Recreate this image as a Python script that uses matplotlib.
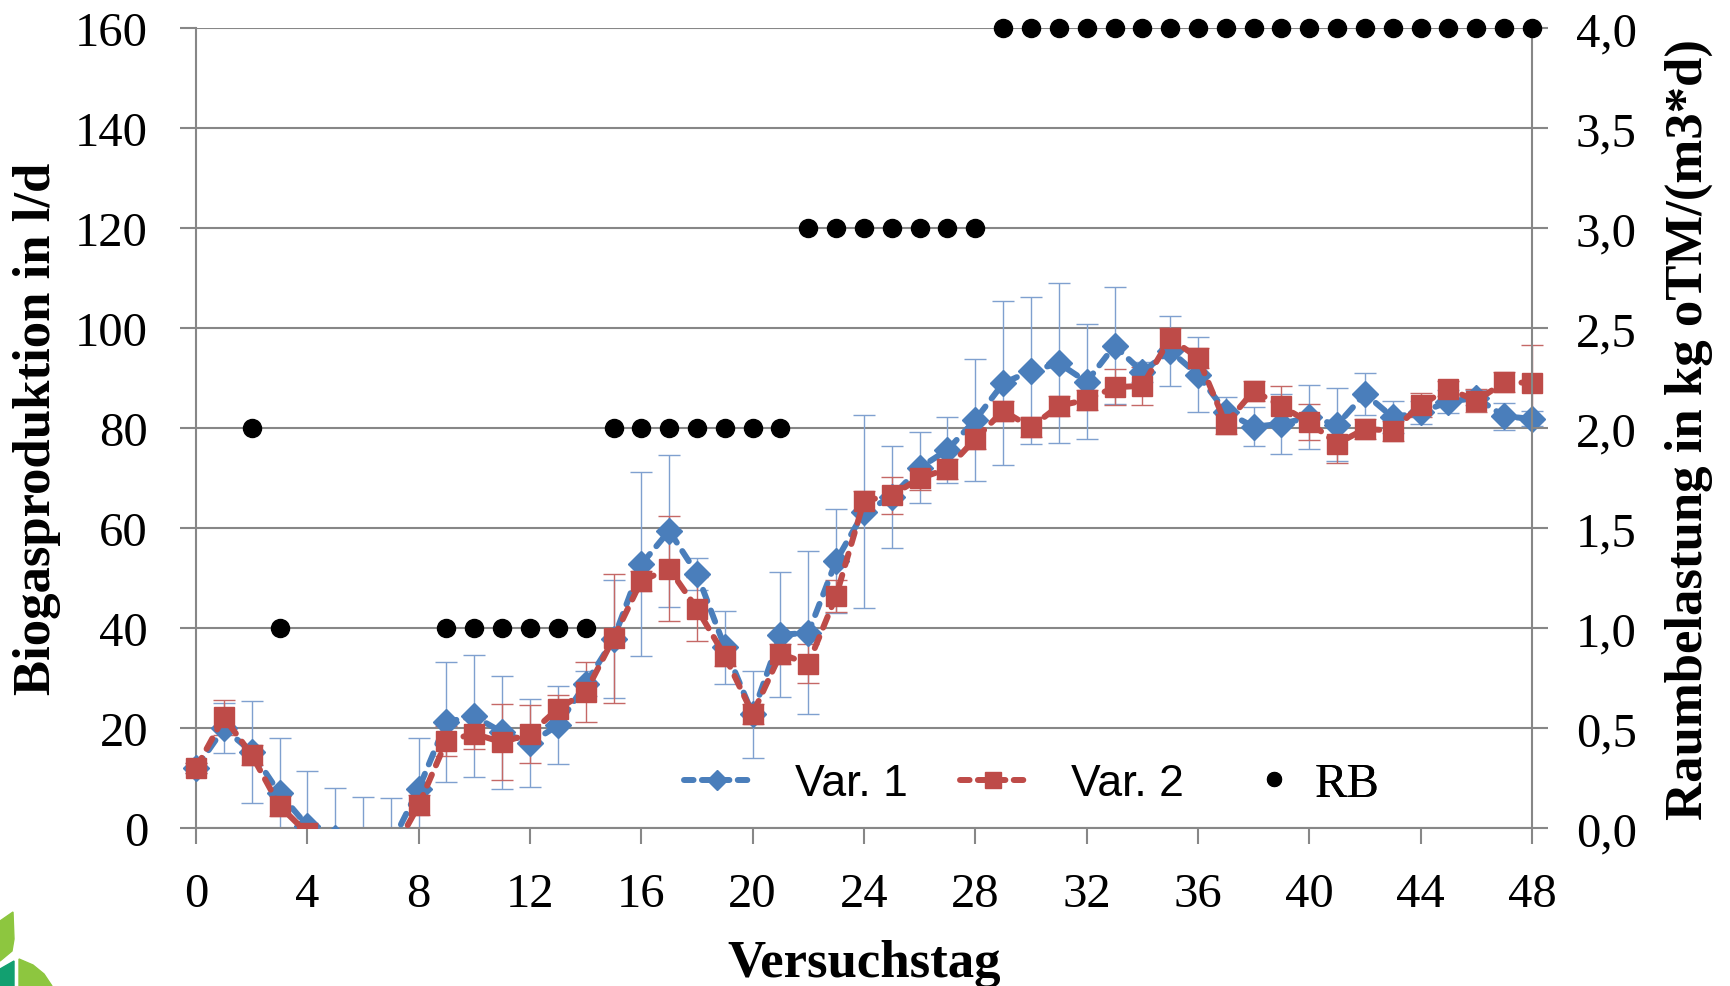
import matplotlib
matplotlib.use("Agg")
import matplotlib.pyplot as plt
import numpy as np
from matplotlib.lines import Line2D
from matplotlib.patches import Polygon
from matplotlib.transforms import Bbox, TransformedBbox
from matplotlib.ticker import FuncFormatter

plt.rcParams['font.family'] = ['Liberation Serif', 'DejaVu Serif']

days = list(range(49))
var1 = [12, 20, 15.3, 7, 0.5, -2, -3, -3.3, 7.9, 21.3,
        22.4, 19.2, 17, 20.6, 28.9, 37.8, 52.8, 59.5, 50.9, 36.2,
        22.8, 38.7, 39.1, 53.5, 63.3, 66.3, 72.1, 75.7, 81.7, 89,
        91.5, 93, 89.3, 96.5, 91.3, 95.5, 90.7, 83.3, 80.3, 80.9,
        82.2, 80.7, 86.9, 82.2, 83.2, 85.3, 86.1, 82.4, 81.9]
var1_err = [1, 5, 10.2, 11, 11, 10, 9.3, 9.4, 10.2, 12,
            12.2, 11.3, 8.8, 7.8, 2.5, 11.8, 18.4, 15.2, 3.2, 7.3,
            8.7, 12.5, 16.3, 10.4, 19.3, 10.2, 7.1, 6.6, 12.2, 16.4,
            14.7, 16, 11.5, 11.7, 2, 7, 7.5, 3, 3.9, 6,
            6.4, 7.3, 4.2, 3.2, 2.3, 2.3, 1.5, 2.7, 1.5]
var2 = [12, 22.2, 14.7, 4.5, -1, -6, -7, -5.5, 4.6, 17.5,
        18.9, 17.2, 18.9, 23.9, 27.2, 38, 49.5, 51.9, 43.9, 34.5,
        22.9, 34.9, 32.9, 46.5, 65.5, 66.6, 70, 71.9, 77.9, 83.5,
        80.2, 84.5, 85.7, 88.2, 88.5, 98, 94.1, 80.9, 87.5, 84.4,
        81.2, 76.9, 79.9, 79.5, 84.7, 87.9, 85.5, 89.2, 89.1]
var2_err = [1, 3.5, 2, 2, 2, 2, 2, 2, 2, 3,
            3, 7.6, 5.8, 2.8, 6, 12.9, 2, 10.5, 6.4, 2,
            2, 2, 3.9, 3.2, 2, 3.7, 2.3, 2, 2, 2,
            2, 2, 2, 3.6, 3.8, 2, 2, 2, 2, 4,
            3.6, 3.8, 2, 2, 2.4, 1.5, 2.3, 2, 7.6]
rb_days = [2, 3] + list(range(9, 49))
rb_vals = [2.0, 1.0] + [1.0] * 6 + [2.0] * 7 + [3.0] * 7 + [4.0] * 20

xticks = list(range(0, 49, 4))
yticks_left = list(range(0, 161, 20))
yticks_right = [0, 0.5, 1.0, 1.5, 2.0, 2.5, 3.0, 3.5, 4.0]

BLUE = '#4A7EBB'
RED = '#BE4B48'
BLUE_ERR = '#7FA0CF'
RED_ERR = '#C56866'
GRID = '#878787'
DASH = (0, (2.0, 1.7))

W, H = 1731, 987
fig = plt.figure(figsize=(W / 100, H / 100), dpi=100)
ax = fig.add_axes([196 / W, 1 - 829.3 / H, 1336 / W, 800 / H])
ax.set_xlim(0, 48)
ax.set_ylim(0, 160)

clipbox = TransformedBbox(Bbox([[-0.05, 0.0], [1.05, 1.05]]), ax.transAxes)

e1 = ax.errorbar(days, var1, yerr=var1_err, fmt='none', ecolor=BLUE_ERR,
                 elinewidth=1.0, capsize=8, capthick=1.0, zorder=2)
e2 = ax.errorbar(days, var2, yerr=var2_err, fmt='none', ecolor=RED_ERR,
                 elinewidth=1.0, capsize=8, capthick=1.0, zorder=2)
l1, = ax.plot(days, var1, color=BLUE, lw=4.3, ls=DASH,
              dash_capstyle='round', marker='D', ms=13, mec=BLUE, mfc=BLUE, zorder=3)
l2, = ax.plot(days, var2, color=RED, lw=4.3, ls=DASH,
              dash_capstyle='round', marker='s', ms=14.5, mec=RED, mfc=RED, zorder=3)
for art in [l1, l2] + list(e1.get_children()) + list(e2.get_children()):
    art.set_clip_box(clipbox)

ax.set_xticks(xticks)
ax.set_yticks(yticks_left)
ax.grid(axis='y', color=GRID, lw=1.5)
ax.set_axisbelow(True)
for s in ['top', 'right']:
    ax.spines[s].set_visible(False)
for s in ['left', 'bottom']:
    ax.spines[s].set_color(GRID)
    ax.spines[s].set_linewidth(1.5)
ax.tick_params(axis='both', direction='out', length=11.5, width=1.5, color=GRID,
               labelsize=35, labelcolor='black')
ax.tick_params(axis='y', pad=23)
ax.tick_params(axis='x', pad=20)

ax.set_xlabel('Versuchstag', fontsize=38, fontweight='bold')
ax.xaxis.set_label_coords(0.5, -0.138)
ax.set_ylabel('Biogasproduktion in l/d', fontsize=38, fontweight='bold')
ax.yaxis.set_label_coords(-0.101, 0.5)

ax2 = ax.twinx()
ax2.set_ylim(0, 4)
ax2.set_yticks(yticks_right)
ax2.yaxis.set_major_formatter(FuncFormatter(lambda v, p: f"{v:.1f}".replace('.', ',')))
p3, = ax2.plot(rb_days, rb_vals, ls='none', marker='o', ms=13, color='black', zorder=4)
p3.set_clip_on(False)
for s in ['top', 'left', 'bottom']:
    ax2.spines[s].set_visible(False)
ax2.spines['right'].set_color(GRID)
ax2.spines['right'].set_linewidth(1.5)
ax2.tick_params(axis='y', direction='out', length=11.5, width=1.5, color=GRID,
                labelsize=35, labelcolor='black', pad=20)
ax2.set_ylabel('Raumbelastung in kg oTM/(m3*d)', fontsize=38, fontweight='bold')
ax2.yaxis.set_label_coords(1.0996, 0.5)

# legend (three single-entry legends, placed like the original)
h1 = Line2D([], [], color=BLUE, lw=4.3, ls=(0, (1.6, 1.4)), dash_capstyle='round',
            marker='D', ms=10, mfc=BLUE, mec=BLUE)
h2 = Line2D([], [], color=RED, lw=4.3, ls=(0, (1.6, 1.4)), dash_capstyle='round',
            marker='s', ms=11, mfc=RED, mec=RED)
h3 = Line2D([], [], ls='none', marker='o', ms=10, color='black')
sans = ['Liberation Sans', 'DejaVu Sans']
specs = [(h1, 'Var. 1', 684, sans, 32, 1.0), (h2, 'Var. 2', 960, sans, 32, 1.0),
         (h3, 'RB', 1241, ['Liberation Serif'], 35, 0.15)]
for h, lab, px, fam, fs, tp in specs:
    leg = ax2.legend([h], [lab], loc='center left', frameon=False,
                     bbox_to_anchor=(px / W, 1 - 785 / H), bbox_transform=fig.transFigure,
                     borderpad=0, borderaxespad=0,
                     handlelength=1.5 * 32 / fs, handletextpad=tp,
                     prop={'family': fam, 'size': fs})
    ax2.add_artist(leg)

# logo fragment at bottom-left
def poly(pts, color):
    fig.patches.append(Polygon([(x / W, 1 - y / H) for x, y in pts], closed=True,
                               transform=fig.transFigure, color=color, figure=fig))

poly([(0, 922), (13, 913), (14, 940), (12, 952), (0, 962)], '#8DC63F')
poly([(0, 970), (14, 962), (14, 987), (0, 987)], '#12A070')
poly([(19, 960), (33, 966), (44, 975), (52, 987), (19, 987)], '#8DC63F')

fig.savefig('out.png', dpi=100)
